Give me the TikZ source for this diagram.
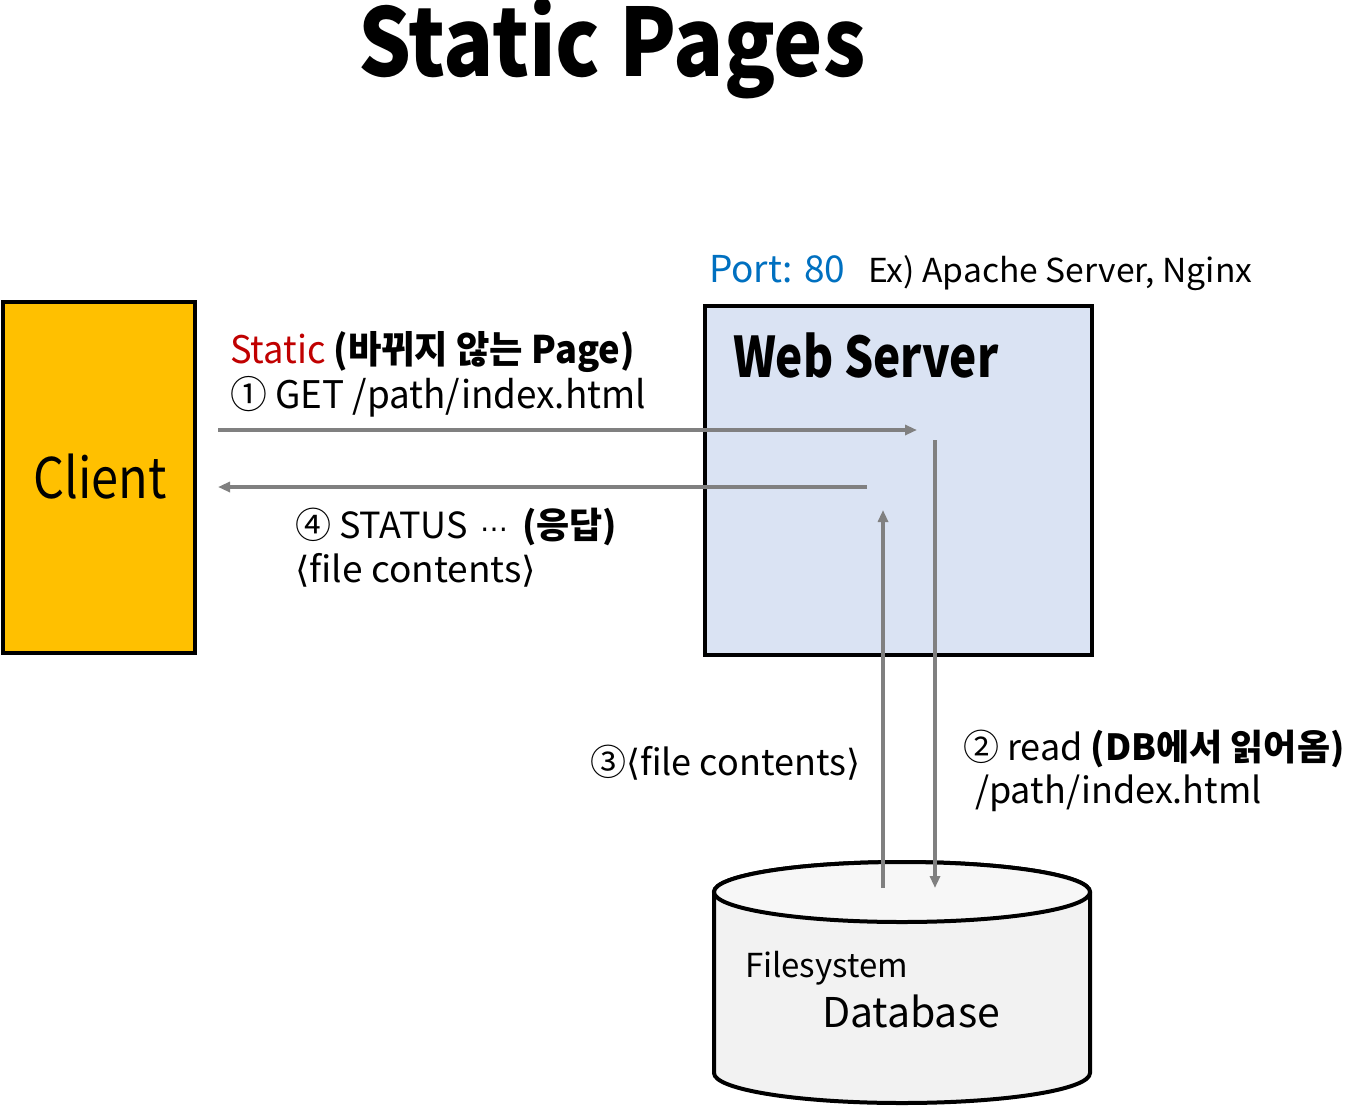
\documentclass[tikz,border=0pt]{standalone}
\usepackage{fontspec}
\usepackage{graphicx}
\setmainfont{Noto Sans CJK KR}
\newfontfamily\djv{DejaVu Sans}
\usetikzlibrary{arrows.meta}
\definecolor{clientfill}{HTML}{FFC000}
\definecolor{serverfill}{HTML}{DAE3F3}
\definecolor{dbfill}{HTML}{F2F2F2}
\definecolor{dbtop}{HTML}{F7F7F7}
\definecolor{redtxt}{HTML}{C00000}
\definecolor{bluetxt}{HTML}{0070C0}
\definecolor{arrowgray}{HTML}{808080}
\newcommand{\lab}{{\djv\char"27E8}}
\newcommand{\rab}{{\djv\char"27E9}}
\newcommand{\sx}[2]{\scalebox{#1}[1]{#2}}
\tikzset{
  box/.style={draw=black, line width=4pt},
  txt/.style={inner sep=0pt, outer sep=0pt, anchor=base west},
  flow/.style={draw=arrowgray, line width=3.2pt, -{Triangle[length=12pt,width=10pt]}},
}
\begin{document}
\begin{tikzpicture}[x=1pt,y=-1pt]
\useasboundingbox (0,0) rectangle (1346,1106);
% title
\node[txt] (title) at (358,76) {\fontsize{94}{100}\selectfont\bfseries\sx{0.885}{Static Pages}};
% client
\path[box, fill=clientfill] (3,302) rectangle (195,653);
\node[inner sep=0pt] (client) at (100,477) {\fontsize{56}{60}\selectfont\sx{0.87}{Client}};
% web server
\path[box, fill=serverfill] (705,306) rectangle (1092,655);
\node[txt] (ws) at (733,377) {\fontsize{56}{60}\selectfont\bfseries\sx{0.82}{Web Server}};
\node[txt] (port) at (709,282) {\fontsize{37}{40}\selectfont\color{bluetxt}Port: 80};
\node[txt] (ex) at (868,282) {\fontsize{33}{36}\selectfont\sx{1.02}{Ex) Apache Server, Nginx}};
% labels
\node[txt] (l1a) at (230,363) {\fontsize{38}{40}\selectfont\sx{0.955}{{\color{redtxt}Static} \bfseries(바뀌지 않는 Page)}};
\node[txt] (l1b) at (230,408) {\fontsize{38}{40}\selectfont\sx{0.97}{① GET /path/index.html}};
\node[txt] (l4a) at (295,538) {\fontsize{36}{40}\selectfont ④ STATUS\hspace{4pt} {\djv\fontsize{28}{30}\selectfont ⋯}\hspace{6pt} \bfseries(응답)};
\node[txt] (l4b) at (295,582) {\fontsize{36}{40}\selectfont\sx{1.03}{\lab file contents\rab}};
\node[txt] (l3) at (590,775) {\fontsize{36}{40}\selectfont ③\lab file contents\rab};
\node[txt] (l2a) at (963,760) {\fontsize{36}{40}\selectfont ② read \bfseries(DB에서 읽어옴)};
\node[txt] (l2b) at (975,803) {\fontsize{36}{40}\selectfont /path/index.html};
% database cylinder
\path[draw=black, line width=4pt, fill=dbfill] (714,892) -- (714,1073) arc[start angle=180,end angle=0,x radius=188,y radius=30] -- (1090,892) arc[start angle=0,end angle=-180,x radius=188,y radius=30] -- cycle;
\path[draw=black, line width=4pt, fill=dbtop] (902,892) ellipse[x radius=188,y radius=30];
\node[txt] (fs) at (745,977) {\fontsize{33}{36}\selectfont Filesystem};
\node[txt] (db) at (822,1027) {\fontsize{41}{44}\selectfont Database};
% connectors
\coordinate (a1s) at (218,430);
\coordinate (a1e) at (917,430);
\coordinate (a4s) at (867,487);
\coordinate (a4e) at (218,487);
\coordinate (a2s) at (935,440);
\coordinate (a2e) at (935,888);
\coordinate (a3s) at (883,888);
\coordinate (a3e) at (883,510);
\draw[flow] (a1s) -- (a1e);
\draw[flow] (a4s) -- (a4e);
\draw[flow] (a2s) -- (a2e);
\draw[flow] (a3s) -- (a3e);
\end{tikzpicture}
\end{document}
